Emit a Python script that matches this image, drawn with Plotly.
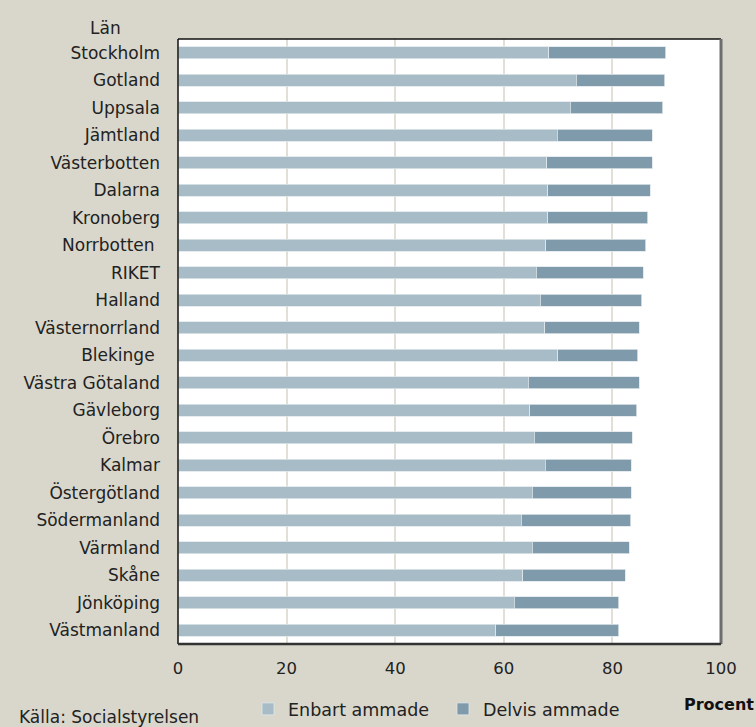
import plotly.graph_objects as go

lan = ["Stockholm", "Gotland", "Uppsala", "Jämtland", "Västerbotten", "Dalarna",
       "Kronoberg", "Norrbotten ", "RIKET", "Halland", "Västernorrland", "Blekinge ",
       "Västra Götaland", "Gävleborg", "Örebro", "Kalmar", "Östergötland",
       "Södermanland", "Värmland", "Skåne", "Jönköping", "Västmanland"]
enbart = [68.3, 73.3, 72.2, 69.8, 67.9, 68.1, 68.1, 67.7, 66.0, 66.7, 67.5, 69.9,
          64.5, 64.8, 65.6, 67.6, 65.2, 63.2, 65.2, 63.5, 61.9, 58.5]
totalt = [89.8, 89.6, 89.3, 87.3, 87.3, 87.0, 86.5, 86.1, 85.7, 85.4, 84.9, 84.7,
          84.9, 84.5, 83.7, 83.5, 83.5, 83.4, 83.1, 82.4, 81.2, 81.2]
delvis = [round(t - e, 1) for t, e in zip(totalt, enbart)]
xticks = [0, 20, 40, 60, 80, 100]

BG = "#d9d7cb"
LABF = "DejaVu Sans"
fig = go.Figure()
fig.add_trace(go.Bar(y=lan, x=enbart, orientation="h", name="Enbart ammade",
                     marker=dict(color="#a7bcc6", line=dict(color="#dfe6ea", width=0.8))))
fig.add_trace(go.Bar(y=lan, x=delvis, orientation="h", name="Delvis ammade",
                     marker=dict(color="#7e9aab", line=dict(color="#dfe6ea", width=0.8))))

fig.update_layout(
    barmode="stack", bargap=0.55,
    width=756, height=727,
    paper_bgcolor=BG, plot_bgcolor="white",
    margin=dict(l=178, r=35, t=39, b=83, autoexpand=False),
    font=dict(family=LABF, size=15, color="#222"),
    showlegend=True,
    legend=dict(orientation="h", xref="container", yref="container",
                x=248 / 756, xanchor="left", y=(727 - 709) / 727, yanchor="middle",
                font=dict(family=LABF, size=17.5, color="#222"),
                bgcolor="rgba(0,0,0,0)", entrywidth=150, entrywidthmode="pixels",
                traceorder="normal"),
    xaxis=dict(range=[0, 100], tickvals=xticks, showgrid=True, gridcolor="#e2dfd6",
               gridwidth=1.5, zeroline=False, ticks="", showline=False,
               tickfont=dict(family=LABF, size=16.5, color="#222"),
               ticklabelstandoff=12),
    yaxis=dict(type="category", autorange="reversed", showgrid=False, ticks="",
               showline=False, tickfont=dict(family=LABF, size=17, color="#222"),
               ticklabelstandoff=17),
)

# frame
fig.add_shape(type="line", xref="paper", yref="paper", x0=0, x1=1, y0=1, y1=1,
              line=dict(color="#111", width=1.5))
fig.add_shape(type="line", xref="paper", yref="paper", x0=0, x1=0, y0=0, y1=1,
              line=dict(color="#111", width=1.5))
fig.add_shape(type="line", xref="paper", yref="paper", x0=1, x1=1, y0=0, y1=1,
              line=dict(color="#6e6e6e", width=3))
fig.add_shape(type="line", xref="paper", yref="paper", x0=0, x1=1, y0=0, y1=0,
              line=dict(color="#333", width=2.5))

fig.add_annotation(text="Län", xref="paper", yref="paper", x=-0.102, y=1.0, yshift=11,
                   xanchor="right", yanchor="middle", showarrow=False,
                   font=dict(family=LABF, size=17, color="#222"))
fig.add_annotation(text="<b>Procent</b>", xref="paper", yref="paper", x=0.928, y=-0.1,
                   xanchor="left", yanchor="middle", showarrow=False,
                   font=dict(family=LABF, size=16, color="#111"))
fig.add_annotation(text="Källa: Socialstyrelsen", xref="paper", yref="paper", x=-0.2965, y=-0.12,
                   xanchor="left", yanchor="middle", showarrow=False,
                   font=dict(family=LABF, size=17, color="#222"))

fig.write_html("out.html", config={"displayModeBar": False},
               post_script="document.body.style.margin='0px';")
